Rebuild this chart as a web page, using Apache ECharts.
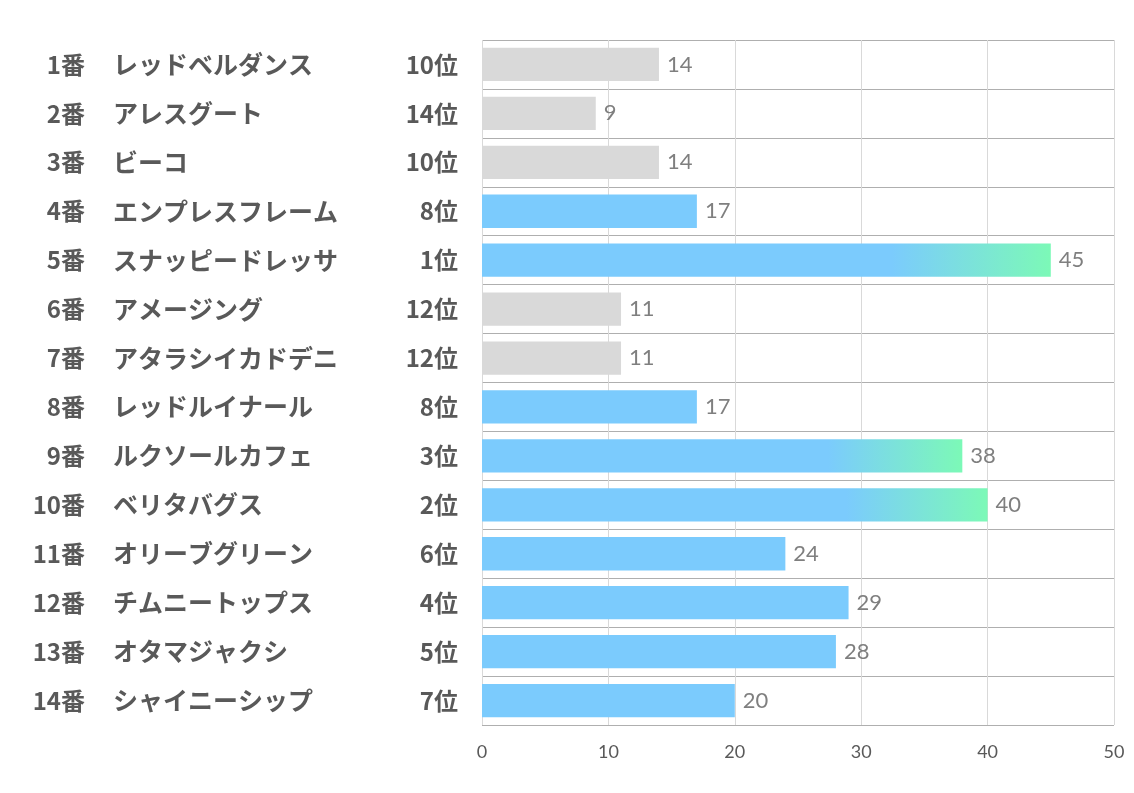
<!DOCTYPE html>
<html><head><meta charset="utf-8">
<script src="https://cdn.jsdelivr.net/npm/echarts@6/dist/echarts.min.js"></script>
<style>html,body{margin:0;padding:0;background:#fff}#c{width:1134px;height:793px}</style>
</head><body><div id="c"></div>
<script>
const nums = ['1番','2番','3番','4番','5番','6番','7番','8番','9番','10番','11番','12番','13番','14番'];
const names = ['レッドベルダンス','アレスグート','ビーコ','エンプレスフレーム','スナッピードレッサ','アメージング','アタラシイカドデニ','レッドルイナール','ルクソールカフェ','ベリタバグス','オリーブグリーン','チムニートップス','オタマジャクシ','シャイニーシップ'];
const ranks = [10,14,10,8,1,12,12,8,3,2,6,4,5,7];
const values = [14,9,14,17,45,11,11,17,38,40,24,29,28,20];
const xTicks = [0,10,20,30,40,50];

const BLUE = '#7BCBFD', GREEN = '#7CF9B7', GRAY = '#D9D9D9';
function barColor(r){
  if (r <= 3) return {type:'linear',x:0,y:0,x2:1,y2:0,colorStops:[{offset:0,color:BLUE},{offset:0.72,color:BLUE},{offset:1,color:GREEN}]};
  if (r <= 8) return BLUE;
  return GRAY;
}
const rankLabels = ranks.map(r => r + '位');
const JP = '"Noto Sans CJK JP", sans-serif';
const lblBase = {color:'#595959',fontSize:24,fontWeight:'bold',fontFamily:JP};
function catAxis(data, margin, align, extra, size){
  return Object.assign({type:'category',inverse:true,data:data,position:'left',offset:0,
    axisLine:{show:false},axisTick:{show:false},splitLine:{show:false},
    axisLabel:Object.assign({margin:margin,align:align},lblBase,{fontSize:size||24})}, extra||{});
}
const chart = echarts.init(document.getElementById('c'), null, {renderer:'canvas'});
chart.setOption({
  animation:false,
  backgroundColor:'#fff',
  grid:{left:482,right:20,top:40,bottom:68,containLabel:false},
  xAxis:{type:'value',min:xTicks[0],max:xTicks[xTicks.length-1],interval:10,
    axisLine:{show:false},axisTick:{show:false},
    splitLine:{show:true,lineStyle:{color:'#D9D9D9',width:1}},
    axisLabel:{color:'#595959',fontSize:18,fontFamily:'Lato, sans-serif',margin:18}},
  yAxis:[
    catAxis(rankLabels, 24, 'right', {splitLine:{show:true,lineStyle:{color:'#AFAFAF',width:1}}}),
    catAxis(names, 369, 'left', null, 25),
    catAxis(nums, 397, 'right')
  ],
  series:[{type:'bar',barCategoryGap:'32%',yAxisIndex:0,
    data:values.map((v,i)=>({value:v,itemStyle:{color:barColor(ranks[i])}})),
    label:{show:true,position:'right',distance:8,color:'#7F7F7F',fontSize:22,fontFamily:'Lato, sans-serif'}}]
});
</script></body></html>
